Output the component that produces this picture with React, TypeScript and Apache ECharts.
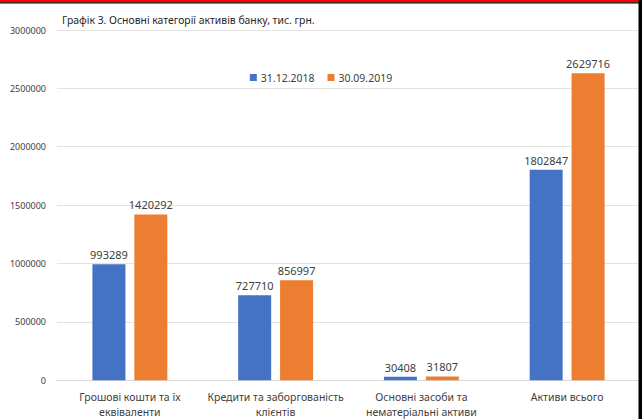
import React, { useEffect, useRef } from "react";
import * as echarts from "echarts";

const categories = [
  "Грошові кошти та їх\nеквіваленти",
  "Кредити та заборгованість\nклієнтів",
  "Основні засоби та\nнематеріальні активи",
  "Активи всього",
];
const seriesNames = ["31.12.2018", "30.09.2019"];
const values2018 = [993289, 727710, 30408, 1802847];
const values2019 = [1420292, 856997, 31807, 2629716];
const titleText = "Графік 3. Основні категорії активів банку, тис. грн.";

const FONT = "'Noto Sans', 'Open Sans', sans-serif";

export default function App() {
  const ref = useRef<HTMLDivElement>(null);
  useEffect(() => {
    if (!ref.current) return;
    const chart = echarts.init(ref.current, undefined, { renderer: "svg" });
    const label = {
      show: true,
      position: "top",
      distance: 4,
      color: "#404040",
      fontSize: 11,
      fontFamily: FONT,
    };
    chart.setOption({
      animation: false,
      backgroundColor: "#ffffff",
      title: {
        text: titleText,
        left: 57,
        top: 10,
        textStyle: { fontSize: 10.4, fontWeight: "normal", color: "#262626", fontFamily: FONT },
      },
      legend: {
        data: seriesNames,
        top: 67,
        left: "center",
        itemWidth: 7,
        itemHeight: 7,
        itemGap: 13,
        icon: "rect",
        textStyle: { fontSize: 10.5, color: "#404040", fontFamily: FONT, padding: [0, 0, 0, -1] },
      },
      grid: { left: 57, right: 2, top: 30, bottom: 34, containLabel: false },
      xAxis: {
        type: "category",
        data: categories,
        axisLine: { show: true, lineStyle: { color: "#d9d9d9", width: 1 } },
        axisTick: { show: false },
        axisLabel: {
          color: "#404040",
          fontSize: 10.5,
          fontFamily: FONT,
          margin: 10,
          lineHeight: 14.4,
          interval: 0,
        },
      },
      yAxis: {
        type: "value",
        min: 0,
        max: 3000000,
        interval: 500000,
        axisLine: { show: false },
        axisTick: { show: false },
        splitLine: { lineStyle: { color: "#e3e3e3", width: 1 } },
        axisLabel: {
          color: "#404040",
          fontSize: 9,
          fontFamily: FONT,
          margin: 11,
          formatter: (v: number) => String(v),
        },
      },
      series: [
        {
          name: seriesNames[0],
          type: "bar",
          data: values2018,
          itemStyle: { color: "#4472C4" },
          barGap: "27%",
          barCategoryGap: "48.6%",
          label,
        },
        {
          name: seriesNames[1],
          type: "bar",
          data: values2019,
          itemStyle: { color: "#ED7D31" },
          barGap: "27%",
          barCategoryGap: "48.6%",
          label,
        },
      ],
      graphic: [
        { type: "rect", left: 0, top: 0, shape: { width: 642, height: 2.3 }, style: { fill: "#ff0000" }, z: 100 },
        { type: "rect", left: 0, top: 2.3, shape: { width: 642, height: 1.2 }, style: { fill: "#000000" }, z: 100 },
        { type: "rect", right: 0, top: 0, shape: { width: 3.5, height: 419 }, style: { fill: "#000000" }, z: 100 },
      ],
    });
    return () => chart.dispose();
  }, []);
  return (
    <div
      ref={ref}
      style={{ position: "fixed", left: 0, top: 0, width: 642, height: 419, background: "#fff" }}
    />
  );
}
